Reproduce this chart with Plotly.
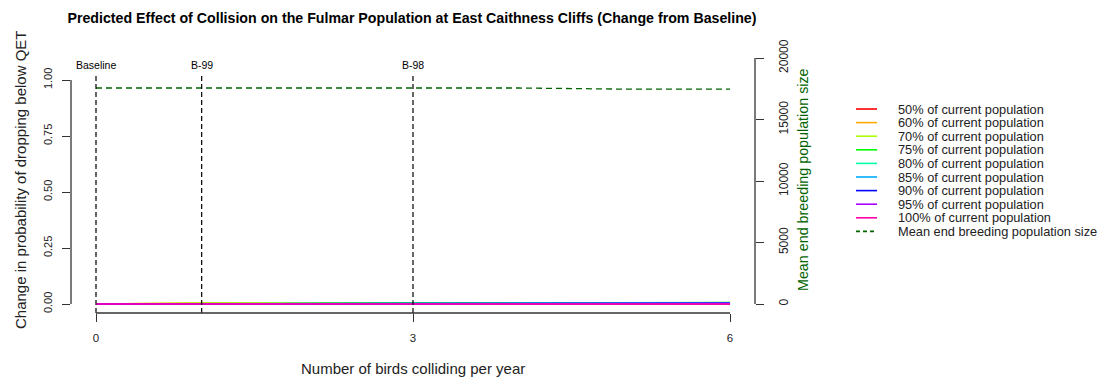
import plotly.graph_objects as go

# ---------------- data ----------------
birds = [0, 1, 2, 3, 4, 5, 6]
series_names = ["50% of current population", "60% of current population",
                "70% of current population", "75% of current population",
                "80% of current population", "85% of current population",
                "90% of current population", "95% of current population",
                "100% of current population"]
series_colors = ["#FF0000", "#FFAA00", "#AAFF00", "#00FF00", "#00FFAA",
                 "#00AAFF", "#0000FF", "#AA00FF", "#FF00AA"]
p50 = [0, 0, 0, 0, 0, 0, 0]
p60 = [0, 0.004, 0.002, 0.003, 0.003, 0.006, 0.005]
p70 = [0, 0.004, 0.003, 0.003, 0.004, 0.004, 0.005]
p75 = [0, 0.002, 0.005, 0.005, 0.004, 0.005, 0.006]
p80 = [0, 0.001, 0.002, 0.003, 0.003, 0.004, 0.005]
p85 = [0, 0.001, 0.002, 0.004, 0.005, 0.005, 0.005]
p90 = [0, 0.001, 0.001, 0.002, 0.002, 0.003, 0.003]
p95 = [0, 0, 0.001, 0.001, 0.001, 0.002, 0.002]
p100 = [0, 0, 0, 0, 0, 0, 0]
series_values = [p50, p60, p70, p75, p80, p85, p90, p95, p100]

pop_name = "Mean end breeding population size"
pop_size = [17560, 17560, 17560, 17560, 17560, 17470, 17470]

ref_x = [0, 1, 3]
ref_labels = ["Baseline", "B-99", "B-98"]

x_ticks = [0, 3, 6]
y_ticks = [0, 0.25, 0.5, 0.75, 1.0]
y_ticktext = ["0.00", "0.25", "0.50", "0.75", "1.00"]
y2_ticks = [0, 5000, 10000, 15000, 20000]

title = "Predicted Effect of Collision on the Fulmar Population at East Caithness Cliffs (Change from Baseline)"
x_title = "Number of birds colliding per year"
y_title = "Change in probability of dropping below QET"
y2_title = "Mean end breeding population size"

# ---------------- layout geometry ----------------
W, H = 1102, 381
ML, MR, MT, MB = 71, 347, 56, 68
PW, PH = W - ML - MR, H - MT - MB
FONT = "Liberation Sans, Arial, sans-serif"
AXC = "#333333"
GREEN = "#006400"


def px_x(px):
    return (px - ML) / PW


def px_y(py):
    return (H - MB - py) / PH


fig = go.Figure()

for name, col, vals in zip(series_names, series_colors, series_values):
    fig.add_trace(go.Scatter(x=birds, y=vals, mode="lines", name=name,
                             line=dict(color=col, width=1.6),
                             showlegend=False, yaxis="y"))

fig.add_trace(go.Scatter(x=birds, y=pop_size, mode="lines", name=pop_name,
                         line=dict(color=GREEN, width=1.3, dash="6px,4px"),
                         showlegend=False, yaxis="y2"))

shapes = []
annotations = []

# reference vertical lines + labels
for rx, rl in zip(ref_x, ref_labels):
    shapes.append(dict(type="line", xref="x", yref="paper", x0=rx, x1=rx,
                       y0=0, y1=px_y(73), layer="above",
                       line=dict(color="black", width=1.2, dash="5px,3px")))
    annotations.append(dict(text=rl, xref="x", yref="paper", x=rx, y=px_y(65),
                            showarrow=False, xanchor="center", yanchor="middle",
                            font=dict(family=FONT, size=10.5, color="black")))

# R-style axis lines spanning first to last tick
shapes.append(dict(type="line", xref="x", yref="paper", x0=x_ticks[0], x1=x_ticks[-1],
                   y0=0, y1=0, line=dict(color=AXC, width=1.3)))
shapes.append(dict(type="line", xref="paper", yref="y", x0=0, x1=0,
                   y0=y_ticks[0], y1=y_ticks[-1], line=dict(color=AXC, width=1.3)))
shapes.append(dict(type="line", xref="paper", yref="y2", x0=1, x1=1,
                   y0=y2_ticks[0], y1=y2_ticks[-1], line=dict(color=AXC, width=1.3)))

# axis titles
annotations.append(dict(text=x_title, xref="paper", yref="paper", x=0.5, y=px_y(368),
                        showarrow=False, xanchor="center", yanchor="middle",
                        font=dict(family=FONT, size=15, color="#222")))
annotations.append(dict(text=y_title, xref="paper", yref="paper", x=px_x(20), y=px_y(180),
                        showarrow=False, xanchor="center", yanchor="middle", textangle=-90,
                        font=dict(family=FONT, size=15, color="#222")))
annotations.append(dict(text=y2_title, xref="paper", yref="paper", x=px_x(803), y=px_y(180),
                        showarrow=False, xanchor="center", yanchor="middle", textangle=-90,
                        font=dict(family=FONT, size=14.3, color=GREEN)))

# custom R-style legend
leg_names = series_names + [pop_name]
leg_colors = series_colors + [GREEN]
for i, (nm, col) in enumerate(zip(leg_names, leg_colors)):
    ypx = 109 + 13.6 * i
    dash = "4px,3px" if i == len(leg_names) - 1 else "solid"
    shapes.append(dict(type="line", xref="paper", yref="paper",
                       x0=px_x(856), x1=px_x(877), y0=px_y(ypx), y1=px_y(ypx),
                       line=dict(color=col, width=1.6, dash=dash)))
    annotations.append(dict(text=nm, xref="paper", yref="paper", x=px_x(896), y=px_y(ypx),
                            showarrow=False, xanchor="left", yanchor="middle",
                            font=dict(family=FONT, size=12.8, color="#222")))

# ranges so that ticks land on the same pixels as the reference
ppu_x = (730 - 96) / 6.0
x_range = [-(96 - ML) / ppu_x, 6 + (ML + PW - 730) / ppu_x]
ppu_y = (304 - 80) / 1.0
y_range = [-(313 - 304) / ppu_y, 1 + (80 - MT) / ppu_y]
ppu_y2 = (304 - 58) / 20000.0
y2_range = [-(313 - 304) / ppu_y2, 20000 + (58 - MT) / ppu_y2]

fig.update_layout(
    width=W, height=H,
    margin=dict(l=ML, r=MR, t=MT, b=MB, autoexpand=False),
    paper_bgcolor="white", plot_bgcolor="white",
    font=dict(family=FONT, color="#222"),
    showlegend=False,
    title=dict(text="<b>" + title + "</b>", x=412 / W, xanchor="center",
               y=1 - 18 / H, yanchor="middle", yref="container",
               font=dict(family=FONT, size=14.2, color="black")),
    xaxis=dict(range=x_range, tickmode="array", tickvals=x_ticks,
               ticktext=[str(v) for v in x_ticks],
               showgrid=False, zeroline=False, showline=False,
               ticks="outside", ticklen=8, tickwidth=1.3, tickcolor=AXC,
               ticklabelstandoff=6,
               tickfont=dict(family=FONT, size=11.5, color="#222")),
    yaxis=dict(range=y_range, tickmode="array", tickvals=y_ticks, ticktext=y_ticktext,
               showgrid=False, zeroline=False, showline=False,
               ticks="outside", ticklen=8, tickwidth=1.3, tickcolor=AXC,
               tickangle=-90, ticklabelstandoff=6,
               tickfont=dict(family=FONT, size=11, color="#222")),
    yaxis2=dict(range=y2_range, tickmode="array", tickvals=y2_ticks,
                ticktext=[str(v) for v in y2_ticks],
                overlaying="y", side="right",
                showgrid=False, zeroline=False, showline=False,
                ticks="outside", ticklen=8, tickwidth=1.3, tickcolor=AXC,
                tickangle=-90, ticklabelstandoff=10,
                tickfont=dict(family=FONT, size=12, color="#222")),
    shapes=shapes,
    annotations=annotations,
)

fig.write_html("out.html", config={"displayModeBar": False},
               post_script="document.body.style.margin='0px';document.body.style.padding='0px';")
